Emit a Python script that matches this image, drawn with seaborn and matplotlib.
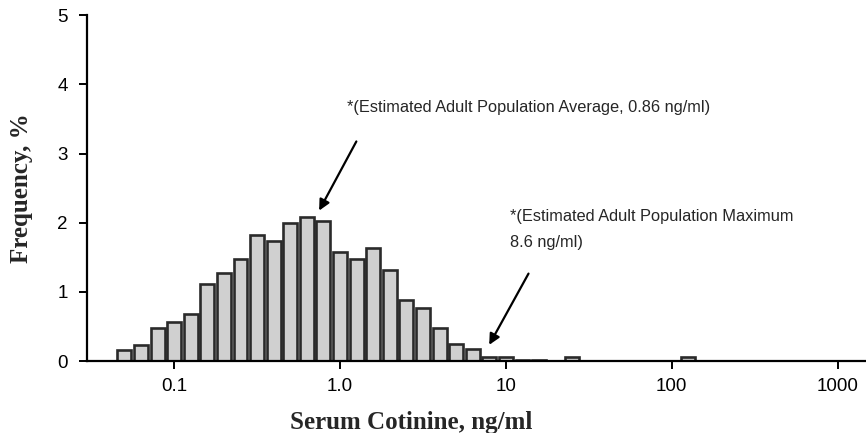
import numpy as np
import pandas as pd
import matplotlib
matplotlib.use("Agg")
import matplotlib.pyplot as plt
import seaborn as sns

# bin centres (ng/ml) and frequency (%)
cotinine = [0.05, 0.063, 0.079, 0.1, 0.126, 0.158, 0.2, 0.25, 0.316, 0.4,
            0.5, 0.63, 0.79, 1.0, 1.26, 1.58, 2.0, 2.5, 3.16, 4.0,
            5.0, 6.3, 7.9, 10.0, 12.6, 15.8, 25.0, 126.0]
frequency = [0.16, 0.24, 0.48, 0.57, 0.68, 1.12, 1.28, 1.48, 1.82, 1.74,
             2.00, 2.08, 2.03, 1.58, 1.48, 1.64, 1.32, 0.89, 0.77, 0.48,
             0.25, 0.18, 0.06, 0.06, 0.02, 0.02, 0.06, 0.06]

x_ticks = [0.1, 1.0, 10, 100, 1000]
x_ticklabels = ["0.1", "1.0", "10", "100", "1000"]
y_ticks = [0, 1, 2, 3, 4, 5]

df = pd.DataFrame({"cotinine": cotinine, "frequency": frequency})

sns.set_style("white")
plt.rcParams['font.family'] = ['Liberation Sans', 'DejaVu Sans']

fig = plt.figure(figsize=(8.66, 4.33), dpi=100)
ax = fig.add_axes([0.1005, 0.166, 0.899, 0.799])

sns.histplot(data=df, x="cotinine", weights="frequency", log_scale=True,
             binwidth=0.1, binrange=(-1.35, 2.15), shrink=0.84,
             color="#d0d0d0", edgecolor="#2a2a2a", linewidth=1.9,
             alpha=1, ax=ax)

ax.set_xlim(0.0299, 1476)
ax.set_ylim(0, 5)
ax.set_xticks(x_ticks)
ax.set_xticklabels(x_ticklabels)
ax.xaxis.set_minor_locator(matplotlib.ticker.NullLocator())
ax.set_yticks(y_ticks)
ax.tick_params(axis='both', direction='out', length=6, width=1.4, pad=6,
               labelsize=13.5, colors='black', left=True, bottom=True)
ax.tick_params(axis='y', pad=8)
for side in ['top', 'right']:
    ax.spines[side].set_visible(False)
for side in ['left', 'bottom']:
    ax.spines[side].set_color('black')
    ax.spines[side].set_linewidth(1.6)

ax.set_xlabel("Serum Cotinine, ng/ml", fontsize=18, fontweight='bold',
              family=['Liberation Serif', 'DejaVu Serif'])
ax.set_ylabel("Frequency, %", fontsize=18, fontweight='bold',
              family=['Liberation Serif', 'DejaVu Serif'])
ax.xaxis.set_label_coords(0.416, -0.145)
ax.yaxis.set_label_coords(-0.069, 0.5)

ax.text(1.10, 3.67, "*(Estimated Adult Population Average, 0.86 ng/ml)",
        fontsize=11.8, va='center', ha='left')
ax.annotate("", xy=(0.736, 2.14), xytext=(1.28, 3.21),
            arrowprops=dict(arrowstyle="-|>", color='black', lw=1.6,
                            mutation_scale=16))
ax.text(10.6, 1.90, "*(Estimated Adult Population Maximum\n8.6 ng/ml)",
        fontsize=11.8, va='center', ha='left', linespacing=1.94)
ax.annotate("", xy=(7.8, 0.2), xytext=(13.97, 1.30),
            arrowprops=dict(arrowstyle="-|>", color='black', lw=1.6,
                            mutation_scale=16))

fig.savefig("out.png", dpi=100)
